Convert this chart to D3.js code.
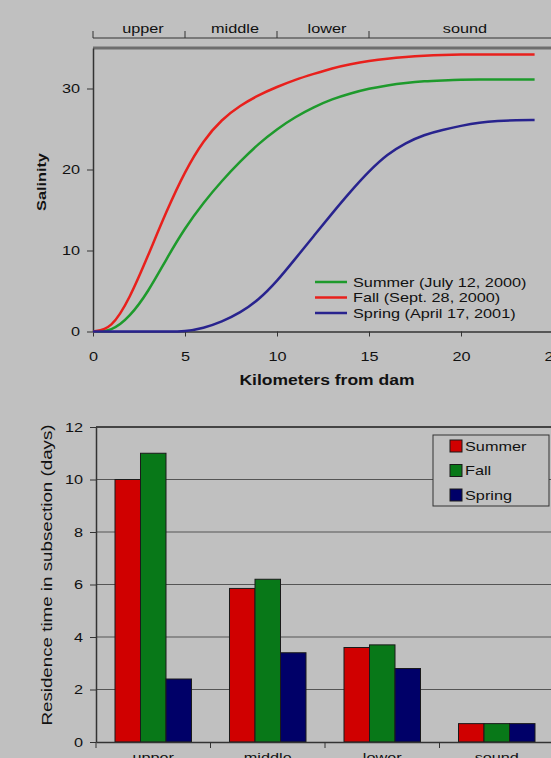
<!DOCTYPE html>
<html>
<head>
<meta charset="utf-8">
<script src="https://cdn.jsdelivr.net/npm/d3@7"></script>
<style>
  body { margin: 0; background: #c0c0c0; }
  svg { display: block; font-family: "Liberation Sans", Arial, sans-serif; }
  .axis path, .axis line { stroke: #333; }
  .axis text { fill: #111; font-size: 13px; }
</style>
</head>
<body>
<script>
// salinity profiles
var km = [0, 1, 2, 3, 4, 5, 6, 7, 8, 9, 10, 11, 12, 13, 14, 15, 16, 17, 18, 19, 20, 21, 22, 23, 24];
var summerSal = [0, 0, 1.8, 4.9, 9.0, 12.8, 15.9, 18.6, 21.0, 23.2, 25.0, 26.5, 27.7, 28.7, 29.4, 30.0, 30.4, 30.7, 30.9, 31.0, 31.1, 31.1, 31.1, 31.1, 31.1];
var fallSal = [0, 0.3, 4.1, 9.4, 14.9, 19.8, 23.6, 26.2, 27.9, 29.2, 30.2, 31.1, 31.8, 32.5, 33.0, 33.4, 33.7, 33.9, 34.05, 34.15, 34.2, 34.2, 34.2, 34.2, 34.2];
var springSal = [0, 0, 0, 0, 0, 0, 0.4, 1.2, 2.3, 3.9, 6.2, 9.0, 11.8, 14.6, 17.3, 19.8, 21.9, 23.3, 24.3, 24.9, 25.4, 25.8, 26.0, 26.1, 26.1];
var lineNames = ["Summer (July 12, 2000)", "Fall (Sept. 28, 2000)", "Spring (April 17, 2001)"];

// subsection boundaries along the estuary (km)
var sections = ["upper", "middle", "lower", "sound"];
var sectionEdges = [0, 5, 10, 15, 25];

// residence time (days) per subsection
var seasons = ["Summer", "Fall", "Spring"];
var summerDays = [10, 5.85, 3.6, 0.7];
var fallDays = [11, 6.2, 3.7, 0.7];
var springDays = [2.4, 3.4, 2.8, 0.7];

var lineColors = ["#1e9a2c", "#e8201c", "#28238e"];
var barColors = ["#d00000", "#087818", "#000068"];
var SX = 1.25; // the source font runs wide

var width = 551, height = 758;
var svg = d3.select("body").append("svg")
    .attr("width", width)
    .attr("height", height);

//---------- top panel: salinity ----------
var x = d3.scaleLinear().domain([0, 25]).range([93, 553]);
var y = d3.scaleLinear().domain([0, 35]).range([331.5, 48]);

//section bracket above the plot
svg.append("line")
    .attr("x1", x(0)).attr("x2", width)
    .attr("y1", 38).attr("y2", 38)
    .attr("stroke", "#333");
svg.selectAll(".secTick")
    .data(sectionEdges.slice(0, 4))
    .enter().append("line")
    .attr("class", "secTick")
    .attr("x1", function(d){ return x(d); })
    .attr("x2", function(d){ return x(d); })
    .attr("y1", 38).attr("y2", 31)
    .attr("stroke", "#333");
svg.selectAll(".secLabel")
    .data(sections)
    .enter().append("text")
    .attr("class", "secLabel")
    .attr("x", function(d, i){ return x((sectionEdges[i] + sectionEdges[i + 1]) / 2) + 4; })
    .attr("y", 33)
    .attr("text-anchor", "middle")
    .attr("font-size", 13)
    .attr("fill", "#111")
    .text(function(d){ return d; });

//top border of plot area
svg.append("line")
    .attr("x1", x(0)).attr("x2", width)
    .attr("y1", y(35)).attr("y2", y(35))
    .attr("stroke", "#6e6e6e")
    .attr("stroke-width", 3);

svg.append("g")
    .attr("class", "axis")
    .attr("transform", "translate(" + x(0) + ",0)")
    .call(d3.axisLeft(y).tickValues([0, 10, 20, 30]).tickSize(6).tickPadding(7).tickSizeOuter(0))
    .select(".domain").attr("stroke-width", 1.5);

svg.append("g")
    .attr("class", "axis")
    .attr("transform", "translate(0," + y(0) + ")")
    .call(d3.axisBottom(x).tickValues([0, 5, 10, 15, 20, 25]).tickSize(5).tickPadding(15).tickSizeOuter(0))
    .select(".domain").attr("stroke-width", 1.5);

var line = d3.line()
    .x(function(d){ return x(d[0]); })
    .y(function(d){ return y(d[1]); })
    .curve(d3.curveBasis);

var profiles = [summerSal, fallSal, springSal];
svg.selectAll(".profile")
    .data(profiles)
    .enter().append("path")
    .attr("class", "profile")
    .attr("fill", "none")
    .attr("stroke", function(d, i){ return lineColors[i]; })
    .attr("stroke-width", 2.5)
    .attr("d", function(d){ return line(d3.zip(km, d)); });

//legend for profiles
var lg = svg.selectAll(".lineKey")
    .data(lineNames)
    .enter().append("g")
    .attr("class", "lineKey")
    .attr("transform", function(d, i){ return "translate(315," + (282 + i * 15.5) + ")"; });
lg.append("line")
    .attr("x1", 0).attr("x2", 32)
    .attr("stroke", function(d, i){ return lineColors[i]; })
    .attr("stroke-width", 2.5);
lg.append("text")
    .attr("x", 38).attr("dy", "0.35em")
    .attr("font-size", 13)
    .attr("fill", "#111")
    .text(function(d){ return d; });

svg.append("text")
    .attr("x", 327).attr("y", 385)
    .attr("text-anchor", "middle")
    .attr("font-size", 14)
    .attr("font-weight", "bold")
    .attr("fill", "#111")
    .text("Kilometers from dam");

svg.append("text")
    .attr("transform", "translate(41,182) rotate(-90)")
    .attr("dy", "0.35em")
    .attr("text-anchor", "middle")
    .attr("font-size", 13)
    .attr("font-weight", "bold")
    .attr("fill", "#111")
    .text("Salinity");

//---------- bottom panel: residence time ----------
var xb = d3.scaleBand().domain(sections).range([96, 554]).padding(0);
var xs = d3.scaleBand().domain(seasons).range([0, xb.bandwidth()]).paddingInner(0).paddingOuter(0.745);
var yb = d3.scaleLinear().domain([0, 12]).range([742, 427]);

//gridlines
svg.selectAll(".grid")
    .data([2, 4, 6, 8, 10])
    .enter().append("line")
    .attr("class", "grid")
    .attr("x1", 96).attr("x2", width)
    .attr("y1", function(d){ return yb(d); })
    .attr("y2", function(d){ return yb(d); })
    .attr("stroke", "#555");
svg.append("line")
    .attr("x1", 96).attr("x2", width)
    .attr("y1", yb(12)).attr("y2", yb(12))
    .attr("stroke", "#444")
    .attr("stroke-width", 2);

var days = [summerDays, fallDays, springDays];
svg.selectAll(".season")
    .data(days)
    .enter().append("g")
    .attr("class", "season")
    .attr("fill", function(d, i){ return barColors[i]; })
    .each(function(vals, si){
        d3.select(this).selectAll("rect")
            .data(vals)
            .enter().append("rect")
            .attr("x", function(d, ci){ return xb(sections[ci]) + xs(seasons[si]); })
            .attr("y", function(d){ return yb(d); })
            .attr("width", xs.bandwidth())
            .attr("height", function(d){ return yb(0) - yb(d); })
            .attr("stroke", "#1a1a1a")
            .attr("stroke-width", 1);
    });

svg.append("g")
    .attr("class", "axis")
    .attr("transform", "translate(96,0)")
    .call(d3.axisLeft(yb).tickValues([0, 2, 4, 6, 8, 10, 12]).tickSize(6).tickPadding(7).tickSizeOuter(0))
    .select(".domain").attr("stroke-width", 1.5);

var xAxisB = svg.append("g")
    .attr("class", "axis")
    .attr("transform", "translate(0," + yb(0) + ")")
    .call(d3.axisBottom(xb).tickSize(0).tickPadding(11));
xAxisB.select(".domain").attr("stroke-width", 1.5);
xAxisB.selectAll(".bound")
    .data(sections)
    .enter().append("line")
    .attr("class", "bound")
    .attr("x1", function(d){ return xb(d); })
    .attr("x2", function(d){ return xb(d); })
    .attr("y1", 0).attr("y2", 6)
    .attr("stroke", "#333");

svg.append("text")
    .attr("transform", "translate(47,575) rotate(-90)")
    .attr("dy", "0.35em")
    .attr("text-anchor", "middle")
    .attr("font-size", 15)
    .attr("fill", "#111")
    .text("Residence time in subsection (days)");

//legend for bars
svg.append("rect")
    .attr("x", 433).attr("y", 435)
    .attr("width", 116).attr("height", 71)
    .attr("fill", "#c0c0c0")
    .attr("stroke", "#333");
var bk = svg.selectAll(".barKey")
    .data(seasons)
    .enter().append("g")
    .attr("class", "barKey")
    .attr("transform", function(d, i){ return "translate(450," + (446 + i * 24.5) + ")"; });
bk.append("rect")
    .attr("x", 0).attr("y", -6)
    .attr("width", 12).attr("height", 12)
    .attr("fill", function(d, i){ return barColors[i]; })
    .attr("stroke", "#1a1a1a");
bk.append("text")
    .attr("x", 15).attr("dy", "0.35em")
    .attr("font-size", 13)
    .attr("fill", "#111")
    .text(function(d){ return d; });

//widen every label to match the source lettering
svg.selectAll("text").each(function(){
    var w = this.getComputedTextLength();
    d3.select(this)
        .attr("textLength", w * SX)
        .attr("lengthAdjust", "spacingAndGlyphs");
});
</script>
</body>
</html>
